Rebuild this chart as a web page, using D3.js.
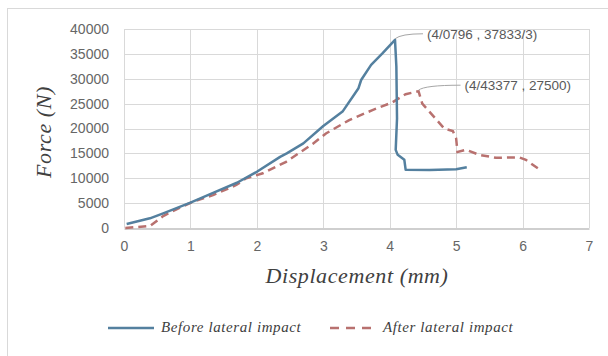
<!DOCTYPE html>
<html>
  <head>
    <script src="https://d3js.org/d3.v7.min.js"></script>
    <style>
      body { margin: 0; background: #fff; }
    </style>
  </head>
  <body>
    <div id="chart"></div>
    <script>
      // data
      const xTicks = [0, 1, 2, 3, 4, 5, 6, 7];
      const yTicks = [0, 5000, 10000, 15000, 20000, 25000, 30000, 35000, 40000];

      const beforeX = [0.04, 0.39, 0.59, 1.0, 1.35, 1.7, 2.0, 2.35, 2.45, 2.7, 3.0, 3.29, 3.53, 3.57, 3.72, 3.89, 4.0796, 4.1, 4.11, 4.09, 4.12, 4.22, 4.24, 4.6, 5.0, 5.16];
      const beforeY = [800, 1950, 2950, 5100, 7100, 9100, 11300, 14300, 15000, 17000, 20500, 23400, 28100, 29750, 32800, 35100, 37833, 32500, 22000, 15700, 14700, 13700, 11700, 11650, 11800, 12200];

      const afterX = [0.02, 0.39, 0.59, 0.79, 1.04, 1.34, 1.69, 1.84, 2.09, 2.44, 2.84, 3.04, 3.39, 3.74, 4.04, 4.24, 4.43377, 4.49, 4.69, 4.82, 4.95, 5.0, 5.02, 5.15, 5.35, 5.6, 5.95, 6.05, 6.23];
      const afterY = [0, 400, 2400, 3750, 5300, 6600, 8640, 10000, 11000, 13300, 16900, 19000, 21700, 23700, 25260, 26900, 27500, 25000, 22000, 20000, 19500, 18000, 15300, 15700, 14700, 14100, 14200, 13700, 12000];

      const seriesNames = ['Before lateral impact', 'After lateral impact'];
      const peakLabels = ['(4/0796 , 37833/3)', '(4/43377 , 27500)'];

      const W = 608, H = 356;
      const margin = { top: 29, right: 19, bottom: 128, left: 124 };

      const svg = d3.select('#chart').append('svg')
        .attr('width', W).attr('height', H);

      // outer frame
      svg.append('rect')
        .attr('x', 7.5).attr('y', 8.5)
        .attr('width', W + 10).attr('height', H + 10)
        .attr('fill', 'none').attr('stroke', '#d9d9d9');

      const x = d3.scaleLinear().domain([0, 7]).range([margin.left, W - margin.right]);
      const y = d3.scaleLinear().domain([0, 40000]).range([H - margin.bottom, margin.top]);

      // grid
      svg.append('g').selectAll('line').data(yTicks.slice(1)).enter().append('line')
        .attr('x1', x(0)).attr('x2', x(7))
        .attr('y1', d => Math.round(y(d)) + 0.5).attr('y2', d => Math.round(y(d)) + 0.5)
        .attr('stroke', '#d9d9d9');
      svg.append('g').selectAll('line').data(xTicks).enter().append('line')
        .attr('x1', d => Math.round(x(d)) + 0.5).attr('x2', d => Math.round(x(d)) + 0.5)
        .attr('y1', y(0)).attr('y2', y(40000))
        .attr('stroke', '#d9d9d9');

      // x axis
      const xAxis = svg.append('g')
        .attr('transform', 'translate(0,' + (Math.round(y(0)) + 0.5) + ')')
        .call(d3.axisBottom(x).tickValues(xTicks).tickSize(0).tickPadding(13).tickFormat(d3.format('d')));
      xAxis.select('.domain').attr('stroke', '#bfbfbf').attr('stroke-width', 1.5);

      // y axis
      const yAxis = svg.append('g')
        .attr('transform', 'translate(' + (x(0) - 15) + ',0)')
        .call(d3.axisLeft(y).tickValues(yTicks).tickSize(0).tickPadding(0).tickFormat(d3.format('d')));
      yAxis.select('.domain').remove();

      svg.selectAll('.tick text')
        .attr('font-family', 'Liberation Sans, Arial, sans-serif')
        .attr('font-size', 14)
        .attr('fill', '#666');

      // axis titles
      svg.append('text')
        .attr('x', 357).attr('y', 283)
        .attr('text-anchor', 'middle')
        .attr('font-family', 'Liberation Serif, Times New Roman, serif')
        .attr('font-style', 'italic')
        .attr('font-size', 22)
        .attr('letter-spacing', 0.6)
        .attr('fill', '#404040')
        .text('Displacement (mm)');

      svg.append('text')
        .attr('transform', 'translate(51,132) rotate(-90)')
        .attr('text-anchor', 'middle')
        .attr('font-family', 'Liberation Serif, Times New Roman, serif')
        .attr('font-style', 'italic')
        .attr('font-size', 22)
        .attr('letter-spacing', 0.6)
        .attr('fill', '#404040')
        .text('Force (N)');

      // series
      const line = d3.line().x(d => x(d[0])).y(d => y(d[1]));
      const before = beforeX.map((v, i) => [v, beforeY[i]]);
      const after = afterX.map((v, i) => [v, afterY[i]]);
      const colors = ['#54809f', '#b8716f'];

      svg.append('path').datum(after)
        .attr('d', line)
        .attr('fill', 'none')
        .attr('stroke', colors[1])
        .attr('stroke-width', 2.5)
        .attr('stroke-dasharray', '8,5');

      svg.append('path').datum(before)
        .attr('d', line)
        .attr('fill', 'none')
        .attr('stroke', colors[0])
        .attr('stroke-width', 2.5)
        .attr('stroke-linejoin', 'round');

      // peak labels with leader lines
      const peaks = [before[16], after[16]];
      const offsets = [[28, -6], [42, -6]];
      peaks.forEach((p, i) => {
        const px = x(p[0]), py = y(p[1]);
        const lx = px + offsets[i][0], ly = py + offsets[i][1];
        svg.append('path')
          .attr('d', 'M' + px + ',' + (py - 1) + ' Q' + (px + 6) + ',' + ly + ' ' + lx + ',' + ly)
          .attr('fill', 'none').attr('stroke', '#a6a6a6').attr('stroke-width', 1);
        svg.append('text')
          .attr('x', lx + 4).attr('y', ly + 5)
          .attr('font-family', 'Liberation Sans, Arial, sans-serif')
          .attr('font-size', 13.5)
          .attr('fill', '#595959')
          .text(peakLabels[i]);
      });

      // legend
      const legend = svg.append('g').attr('transform', 'translate(0,328)');
      const legX = [108, 330];
      seriesNames.forEach((name, i) => {
        legend.append('line')
          .attr('x1', legX[i]).attr('x2', legX[i] + 46)
          .attr('y1', 0).attr('y2', 0)
          .attr('stroke', colors[i])
          .attr('stroke-width', 2.5)
          .attr('stroke-dasharray', i === 1 ? '9,7' : null);
        legend.append('text')
          .attr('x', legX[i] + 53).attr('y', 4)
          .attr('font-family', 'Liberation Serif, Times New Roman, serif')
          .attr('font-style', 'italic')
          .attr('font-size', 15)
          .attr('letter-spacing', 0.6)
          .attr('fill', '#404040')
          .text(name);
      });
    </script>
  </body>
</html>
